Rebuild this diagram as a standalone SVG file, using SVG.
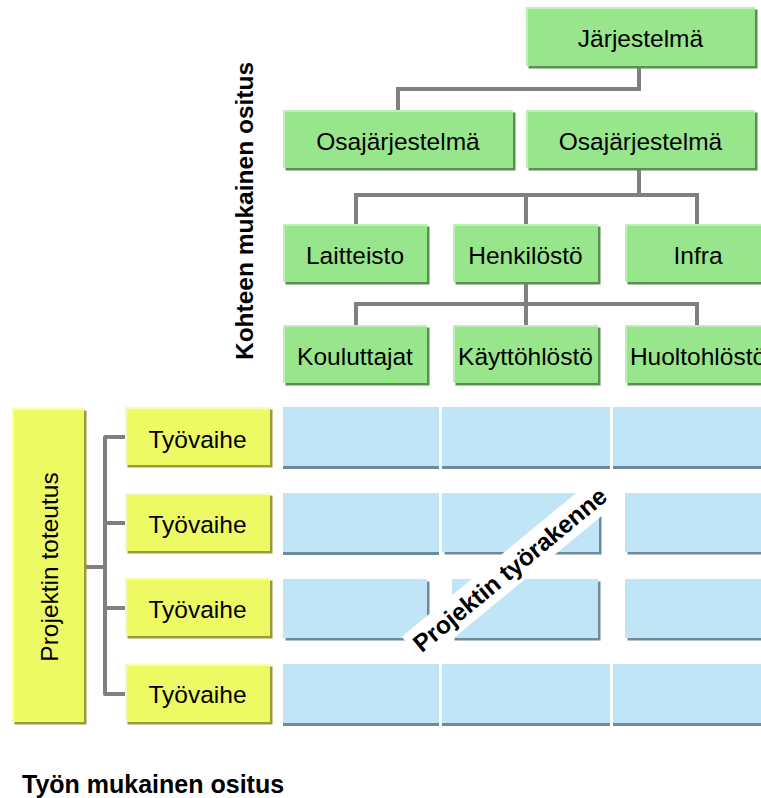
<svg xmlns="http://www.w3.org/2000/svg" width="761" height="798" viewBox="0 0 761 798">
<style>
text{font-family:"Liberation Sans",Arial,sans-serif;fill:#000}
.t{font-size:24.5px;text-anchor:middle}
.b{font-size:24.5px;font-weight:bold}
.g{fill:#98E68C}.gs{fill:#5B8E52}.gh{fill:none;stroke:#BDF0B5;stroke-width:2}
.y{fill:#EEFA63}.ys{fill:#9A9A3C}.yh{fill:none;stroke:#F7FCB0;stroke-width:2}
.c{fill:#C0E5F7}.cs{fill:#6F8A98}
.ln{fill:none;stroke:#808080;stroke-width:4}
</style>
<rect width="761" height="798" fill="#fff"/>

<g id="connectors">
<path class="ln" d="M639 66V89H398V110"/>
<path class="ln" d="M639 168V195M356 224V195H697V224M526 195V224"/>
<path class="ln" d="M526 282V304M356 325V304H697V325M526 304V325"/>
<path class="ln" stroke-linecap="round" d="M105 437V694M105 437H127M105 523H127M105 608H127M105 694H127M85 567H105"/>
</g>

<g id="n-jarjestelma"><rect class="gs" x="528.5" y="9.5" width="229" height="59"/><rect class="g" x="526" y="7" width="229" height="59"/><path class="gh" d="M527 66V8H755"/><text class="t" x="640.5" y="47">Järjestelmä</text></g>
<g id="n-osa1"><rect class="gs" x="285.5" y="112.5" width="230" height="58"/><rect class="g" x="283" y="110" width="230" height="58"/><path class="gh" d="M284 168V111H513"/><text class="t" x="398" y="150">Osajärjestelmä</text></g>
<g id="n-osa2"><rect class="gs" x="528.5" y="112.5" width="229" height="58"/><rect class="g" x="526" y="110" width="229" height="58"/><path class="gh" d="M527 168V111H755"/><text class="t" x="640.5" y="150">Osajärjestelmä</text></g>
<g id="n-laitteisto"><rect class="gs" x="285.5" y="226.5" width="144" height="58"/><rect class="g" x="283" y="224" width="144" height="58"/><path class="gh" d="M284 282V225H427"/><text class="t" x="355" y="263.5">Laitteisto</text></g>
<g id="n-henkilosto"><rect class="gs" x="455.5" y="226.5" width="145" height="58"/><rect class="g" x="453" y="224" width="145" height="58"/><path class="gh" d="M454 282V225H598"/><text class="t" x="525.5" y="263.5">Henkilöstö</text></g>
<g id="n-infra"><rect class="gs" x="627.5" y="226.5" width="146" height="58"/><rect class="g" x="625" y="224" width="146" height="58"/><path class="gh" d="M626 282V225H771"/><text class="t" x="698" y="263.5">Infra</text></g>
<g id="n-kouluttajat"><rect class="gs" x="285.5" y="327.5" width="144" height="58"/><rect class="g" x="283" y="325" width="144" height="58"/><path class="gh" d="M284 383V326H427"/><text class="t" x="355" y="365">Kouluttajat</text></g>
<g id="n-kayttohlosto"><rect class="gs" x="455.5" y="327.5" width="145" height="58"/><rect class="g" x="453" y="325" width="145" height="58"/><path class="gh" d="M454 383V326H598"/><text class="t" x="525.5" y="365">Käyttöhlöstö</text></g>
<g id="n-huoltohlosto"><rect class="gs" x="627.5" y="327.5" width="146" height="58"/><rect class="g" x="625" y="325" width="146" height="58"/><path class="gh" d="M626 383V326H771"/><text class="t" x="698" y="365">Huoltohlöstö</text></g>

<g id="n-projektin-toteutus"><rect class="ys" x="14.5" y="410.5" width="72" height="314"/><rect class="y" x="12" y="408" width="72" height="314"/><path class="yh" d="M13 722V409H84"/><text class="t" transform="translate(58,567) rotate(-90)">Projektin toteutus</text></g>
<g id="n-tyovaihe1"><rect class="ys" x="127.5" y="409.5" width="145" height="58"/><rect class="y" x="125" y="407" width="145" height="58"/><path class="yh" d="M126 465V408H270"/><text class="t" x="197.5" y="447.5">Työvaihe</text></g>
<g id="n-tyovaihe2"><rect class="ys" x="127.5" y="495.5" width="145" height="58"/><rect class="y" x="125" y="493" width="145" height="58"/><path class="yh" d="M126 551V494H270"/><text class="t" x="197.5" y="533">Työvaihe</text></g>
<g id="n-tyovaihe3"><rect class="ys" x="127.5" y="580.5" width="145" height="58"/><rect class="y" x="125" y="578" width="145" height="58"/><path class="yh" d="M126 636V579H270"/><text class="t" x="197.5" y="618">Työvaihe</text></g>
<g id="n-tyovaihe4"><rect class="ys" x="127.5" y="666.5" width="145" height="58"/><rect class="y" x="125" y="664" width="145" height="58"/><path class="yh" d="M126 722V665H270"/><text class="t" x="197.5" y="703">Työvaihe</text></g>

<g id="grid">
<rect class="cs" x="283" y="410" width="156" height="59"/><rect class="c" x="283" y="407" width="156" height="59"/>
<rect class="cs" x="442" y="410" width="168" height="59"/><rect class="c" x="442" y="407" width="168" height="59"/>
<rect class="cs" x="613" y="410" width="160" height="59"/><rect class="c" x="613" y="407" width="160" height="59"/>

<rect class="cs" x="283" y="496" width="156" height="59"/><rect class="c" x="283" y="493" width="156" height="59"/>
<rect class="cs" x="444.5" y="495.5" width="157" height="59"/><rect class="c" x="442" y="493" width="157" height="59"/>
<rect class="cs" x="627.5" y="495.5" width="146" height="59"/><rect class="c" x="625" y="493" width="146" height="59"/>

<rect class="cs" x="285.5" y="581.5" width="144" height="59"/><rect class="c" x="283" y="579" width="144" height="59"/>
<rect class="cs" x="454.5" y="581.5" width="146" height="59"/><rect class="c" x="452" y="579" width="146" height="59"/>
<rect class="cs" x="627.5" y="581.5" width="146" height="59"/><rect class="c" x="625" y="579" width="146" height="59"/>

<rect class="cs" x="283" y="667" width="156" height="59"/><rect class="c" x="283" y="664" width="156" height="59"/>
<rect class="cs" x="442" y="667" width="168" height="59"/><rect class="c" x="442" y="664" width="168" height="59"/>
<rect class="cs" x="613" y="667" width="160" height="59"/><rect class="c" x="613" y="664" width="160" height="59"/>
</g>

<g id="label-tyorakenne" transform="translate(507.5,571.6) rotate(-39.5)">
<rect x="-123" y="-17" width="252" height="34" fill="#fff"/>
<text class="b" x="3" y="8.5" text-anchor="middle">Projektin työrakenne</text>
</g>

<text class="b" text-anchor="middle" transform="translate(253,211) rotate(-90)">Kohteen mukainen ositus</text>
<text class="b" x="22" y="793" style="font-size:25px">Työn mukainen ositus</text>
</svg>
